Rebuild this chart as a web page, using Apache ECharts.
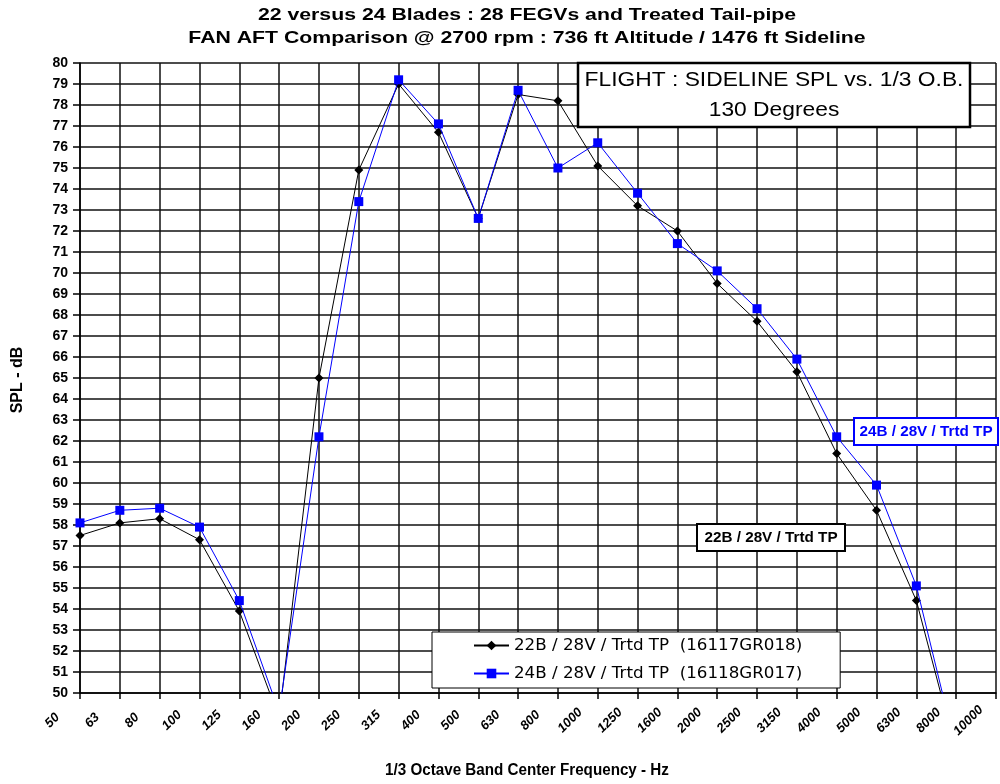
<!DOCTYPE html>
<html>
<head>
<meta charset="utf-8">
<script src="https://cdn.jsdelivr.net/npm/echarts@6/dist/echarts.min.js"></script>
<style>
html,body{margin:0;padding:0;background:#fff;}
#chart{width:1000px;height:784px;}
</style>
</head>
<body>
<div id="chart"></div>
<script>
// Data
const categories = ['50','63','80','100','125','160','200','250','315','400','500','630','800','1000','1250','1600','2000','2500','3150','4000','5000','6300','8000','10000'];
const series22B = [57.5, 58.1, 58.3, 57.3, 53.9, 48.8, 65.0, 74.9, 79.0, 76.7, 72.6, 78.5, 78.2, 75.1, 73.2, 72.0, 69.5, 67.7, 65.3, 61.4, 58.7, 54.4, 47.2, null];
const series24B = [58.1, 58.7, 58.8, 57.9, 54.4, 49.1, 62.2, 73.4, 79.2, 77.1, 72.6, 78.7, 75.0, 76.2, 73.8, 71.4, 70.1, 68.3, 65.9, 62.2, 59.9, 55.1, 47.3, null];
const seriesNames = ['22B / 28V / Trtd TP  (16117GR018)', '24B / 28V / Trtd TP  (16118GR017)'];
const yMin = 50, yMax = 80, yStep = 1;
const titleLines = ['22 versus 24 Blades : 28 FEGVs and Treated Tail-pipe', 'FAN AFT Comparison @ 2700 rpm : 736 ft Altitude / 1476 ft Sideline'];
const boxLines = ['FLIGHT : SIDELINE SPL vs. 1/3 O.B.', '130 Degrees'];
const xName = '1/3 Octave Band Center Frequency - Hz';
const yName = 'SPL - dB';
const label24 = '24B / 28V / Trtd TP';
const label22 = '22B / 28V / Trtd TP';

const chart = echarts.init(document.getElementById('chart'), null, {renderer: 'canvas'});
const FONT = 'Arial, "Liberation Sans", sans-serif';
const gridColor = '#111';

const option = {
  animation: false,
  backgroundColor: '#fff',
  grid: {left: 80, right: 4, top: 63, bottom: 91, containLabel: false},
  xAxis: {
    type: 'category',
    data: categories,
    boundaryGap: false,
    axisLine: {show: true, lineStyle: {color: '#000', width: 1.5}},
    axisTick: {show: true, length: 6, lineStyle: {color: '#000', width: 1.5}},
    axisLabel: {
      interval: 0, rotate: 45, align: 'center', verticalAlign: 'middle',
      margin: 0, padding: [0, 78, 0, 0],
      fontFamily: FONT, fontWeight: 'bold', fontStyle: 'italic', fontSize: 13, color: '#000'
    },
    splitLine: {show: true, lineStyle: {color: gridColor, width: 1.5}}
  },
  yAxis: {
    type: 'value', min: yMin, max: yMax, interval: yStep,
    axisLine: {show: true, lineStyle: {color: '#000', width: 1.5}},
    axisTick: {show: true, length: 7, lineStyle: {color: '#000', width: 1.5}},
    axisLabel: {margin: 12, fontFamily: FONT, fontWeight: 'bold', fontSize: 14, color: '#000'},
    splitLine: {show: true, lineStyle: {color: gridColor, width: 1.5}}
  },
  legend: {
    orient: 'vertical', left: 432, top: 632,
    backgroundColor: '#fff', borderColor: '#000', borderWidth: 1,
    padding: [5, 38, 6, 41], itemWidth: 35, itemHeight: 12, itemGap: 11,
    textStyle: {fontFamily: '"DejaVu Sans", Arial, sans-serif', fontSize: 16.7, color: '#000'},
    data: seriesNames
  },
  series: [
    {
      name: seriesNames[0], type: 'line', data: series22B,
      symbol: 'diamond', symbolSize: 9,
      lineStyle: {color: '#000', width: 1}, itemStyle: {color: '#000'},
      clip: true, connectNulls: false, z: 2
    },
    {
      name: seriesNames[1], type: 'line', data: series24B,
      symbol: 'rect', symbolSize: 9,
      lineStyle: {color: '#0000ff', width: 1}, itemStyle: {color: '#0000ff'},
      clip: true, connectNulls: false, z: 3
    }
  ],
  graphic: [
    {type: 'text', x: 527, y: 15, scaleX: 1.25, style: {text: titleLines[0], font: 'bold 17px ' + FONT, fill: '#000', align: 'center', verticalAlign: 'middle'}},
    {type: 'text', x: 527, y: 38, scaleX: 1.25, style: {text: titleLines[1], font: 'bold 17px ' + FONT, fill: '#000', align: 'center', verticalAlign: 'middle'}},
    {type: 'text', x: 527, y: 771, scaleX: 0.95, style: {text: xName, font: 'bold 16px ' + FONT, fill: '#000', align: 'center', verticalAlign: 'middle'}},
    {type: 'text', x: 18, y: 380, rotation: Math.PI / 2, style: {text: yName, font: 'bold 16px ' + FONT, fill: '#000', align: 'center', verticalAlign: 'middle'}},
    {type: 'rect', shape: {x: 578, y: 63, width: 392, height: 64}, style: {fill: '#fff', stroke: '#000', lineWidth: 2.5}, z: 100},
    {type: 'text', x: 774, y: 80, scaleX: 1.14, style: {text: boxLines[0], font: '20px ' + FONT, fill: '#000', align: 'center', verticalAlign: 'middle'}, z: 101},
    {type: 'text', x: 774, y: 110, scaleX: 1.14, style: {text: boxLines[1], font: '20px ' + FONT, fill: '#000', align: 'center', verticalAlign: 'middle'}, z: 101},
    {type: 'rect', shape: {x: 854, y: 418, width: 144, height: 27}, style: {fill: '#fff', stroke: '#0000ff', lineWidth: 2}, z: 100},
    {type: 'text', x: 926, y: 432, scaleX: 1.09, style: {text: label24, font: 'bold 14px ' + FONT, fill: '#0000ff', align: 'center', verticalAlign: 'middle'}, z: 101},
    {type: 'rect', shape: {x: 697, y: 524, width: 148, height: 27}, style: {fill: '#fff', stroke: '#000', lineWidth: 2}, z: 100},
    {type: 'text', x: 771, y: 538, scaleX: 1.09, style: {text: label22, font: 'bold 14px ' + FONT, fill: '#000', align: 'center', verticalAlign: 'middle'}, z: 101}
  ]
};
chart.setOption(option);
</script>
</body>
</html>
